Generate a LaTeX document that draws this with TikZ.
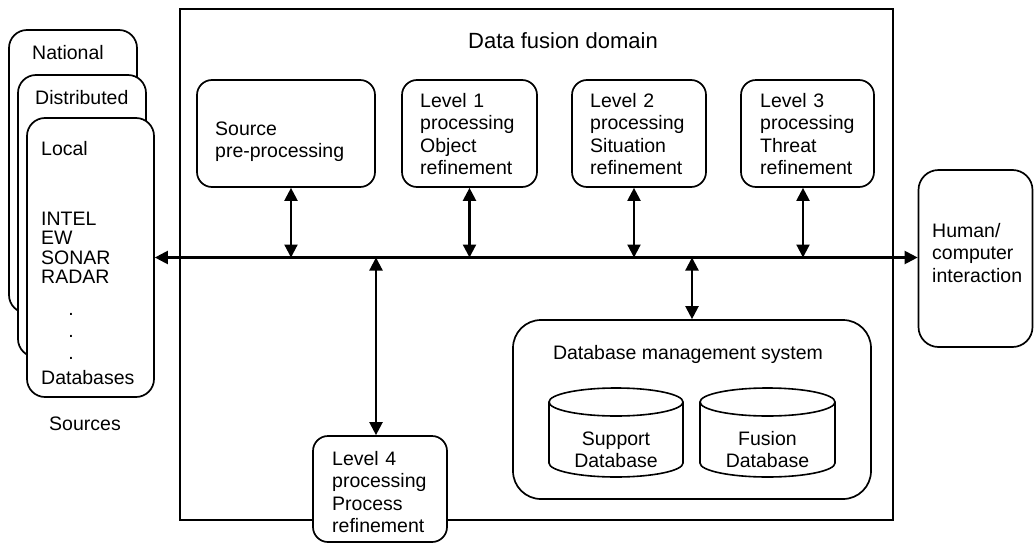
\documentclass[tikz,border=0pt]{standalone}
\usepackage{fontspec}
\setmainfont{Liberation Sans}
\usetikzlibrary{arrows.meta}
\begin{document}
\begin{tikzpicture}[x=1pt,y=-1pt,
  box/.style={draw, line width=1.7pt, rounded corners=15pt, fill=white, inner sep=0pt},
  srcbox/.style={box, rounded corners=18pt},
  lbl/.style={anchor=base west, inner sep=0pt, align=left, text width=130pt,
    font=\fontsize{19.5}{22.5}\selectfont},
  clbl/.style={anchor=base, inner sep=0pt, align=center, text width=130pt,
    font=\fontsize{19.5}{22.5}\selectfont},
  arr/.style={line width=2.2pt, {Triangle[length=13pt,width=13pt]}-{Triangle[length=13pt,width=13pt]}},
  cyl/.style={draw, line width=1.6pt, fill=white}
]
\useasboundingbox (0,0) rectangle (1034,544);
% domain
\node[draw, line width=2pt, minimum width=713pt, minimum height=511pt, inner sep=0pt] (domain) at (536.5,264.5) {};
\node[anchor=base, inner sep=0pt, font=\fontsize{22}{26}\selectfont] (domtitle) at (563,48) {Data fusion domain};
% sources stack
\node[srcbox, minimum width=128pt, minimum height=283pt] (national) at (73,171.5) {};
\node[lbl] (nattxt) at (32,59) {National};
\node[srcbox, minimum width=128pt, minimum height=282pt] (distributed) at (82,216) {};
\node[lbl] (disttxt) at (35,104) {Distributed};
\node[srcbox, minimum width=127pt, minimum height=279pt] (local) at (90.5,257.5) {};
\node[lbl] (loctxt) at (41,155) {Local};
\node[lbl, font=\fontsize{19.5}{19.6}\selectfont] (sensors) at (41,225) {INTEL\\EW\\SONAR\\RADAR};
\node[anchor=base, inner sep=0pt, font=\fontsize{19.5}{22.5}\selectfont] (dot1) at (71,315) {.};
\node[anchor=base, inner sep=0pt, font=\fontsize{19.5}{22.5}\selectfont] (dot2) at (71,337) {.};
\node[anchor=base, inner sep=0pt, font=\fontsize{19.5}{22.5}\selectfont] (dot3) at (71,359) {.};
\node[lbl] (dbtxt) at (41,384) {Databases};
\node[anchor=base, inner sep=0pt, font=\fontsize{19.5}{22.5}\selectfont] (sources) at (85,430) {Sources};
% top boxes
\node[box, minimum width=178pt, minimum height=107pt] (src) at (286,133.5) {};
\node[lbl] (srctxt) at (215,135) {Source\\pre-processing};
\node[box, minimum width=135pt, minimum height=107pt] (l1) at (469.5,133.5) {};
\node[lbl] (l1txt) at (420,107) {Level 1\\processing\\Object\\refinement};
\node[box, minimum width=134pt, minimum height=107pt] (l2) at (639,133.5) {};
\node[lbl] (l2txt) at (590,107) {Level 2\\processing\\Situation\\refinement};
\node[box, minimum width=133pt, minimum height=107pt] (l3) at (807.5,133.5) {};
\node[lbl] (l3txt) at (760,107) {Level 3\\processing\\Threat\\refinement};
% human
\node[box, rounded corners=20pt, minimum width=114pt, minimum height=177pt] (human) at (975.5,258.5) {};
\node[lbl] (humtxt) at (932,237) {Human/\\computer\\interaction};
% DBMS
\node[box, rounded corners=28pt, minimum width=358pt, minimum height=179pt] (dbms) at (692,409.5) {};
\node[anchor=base, inner sep=0pt, font=\fontsize{19.5}{22.5}\selectfont] (dbmstxt) at (688,359) {Database management system};
% cylinders
\draw[cyl] (549,402) -- (549,463) arc[start angle=180,end angle=360,x radius=67pt,y radius=14pt] -- (683,402) arc[start angle=0,end angle=180,x radius=67pt,y radius=14pt] -- cycle;
\draw[line width=1.6pt] (549,402) arc[start angle=180,end angle=360,x radius=67pt,y radius=14pt];
\node[clbl] (supptxt) at (616,445) {Support\\Database};
\draw[cyl] (700,402) -- (700,463) arc[start angle=180,end angle=360,x radius=67.5pt,y radius=14pt] -- (835,402) arc[start angle=0,end angle=180,x radius=67.5pt,y radius=14pt] -- cycle;
\draw[line width=1.6pt] (700,402) arc[start angle=180,end angle=360,x radius=67.5pt,y radius=14pt];
\node[clbl] (fustxt) at (767.5,445) {Fusion\\Database};
% level 4
\node[box, minimum width=134pt, minimum height=106pt] (l4) at (380,489) {};
\node[lbl] (l4txt) at (332,465) {Level 4\\processing\\Process\\refinement};
% bus
\coordinate (bus) at (local.east);
\draw[arr] (local.east) -- (bus -| human.west);
\coordinate (srcend) at ([xshift=5pt]src.south);
\coordinate (l1end) at (l1.south);
\coordinate (l2end) at ([xshift=-5pt]l2.south);
\coordinate (l3end) at ([xshift=-4.5pt]l3.south);
\coordinate (l4end) at ([xshift=-4pt]l4.north);
\draw[arr] (srcend) -- (srcend |- bus);
\draw[arr] (l1end) -- (l1end |- bus);
\draw[arr] (l2end) -- (l2end |- bus);
\draw[arr] (l3end) -- (l3end |- bus);
\draw[arr] (dbms.north) -- (dbms.north |- bus);
\draw[arr] (l4end) -- (l4end |- bus);
\end{tikzpicture}
\end{document}
